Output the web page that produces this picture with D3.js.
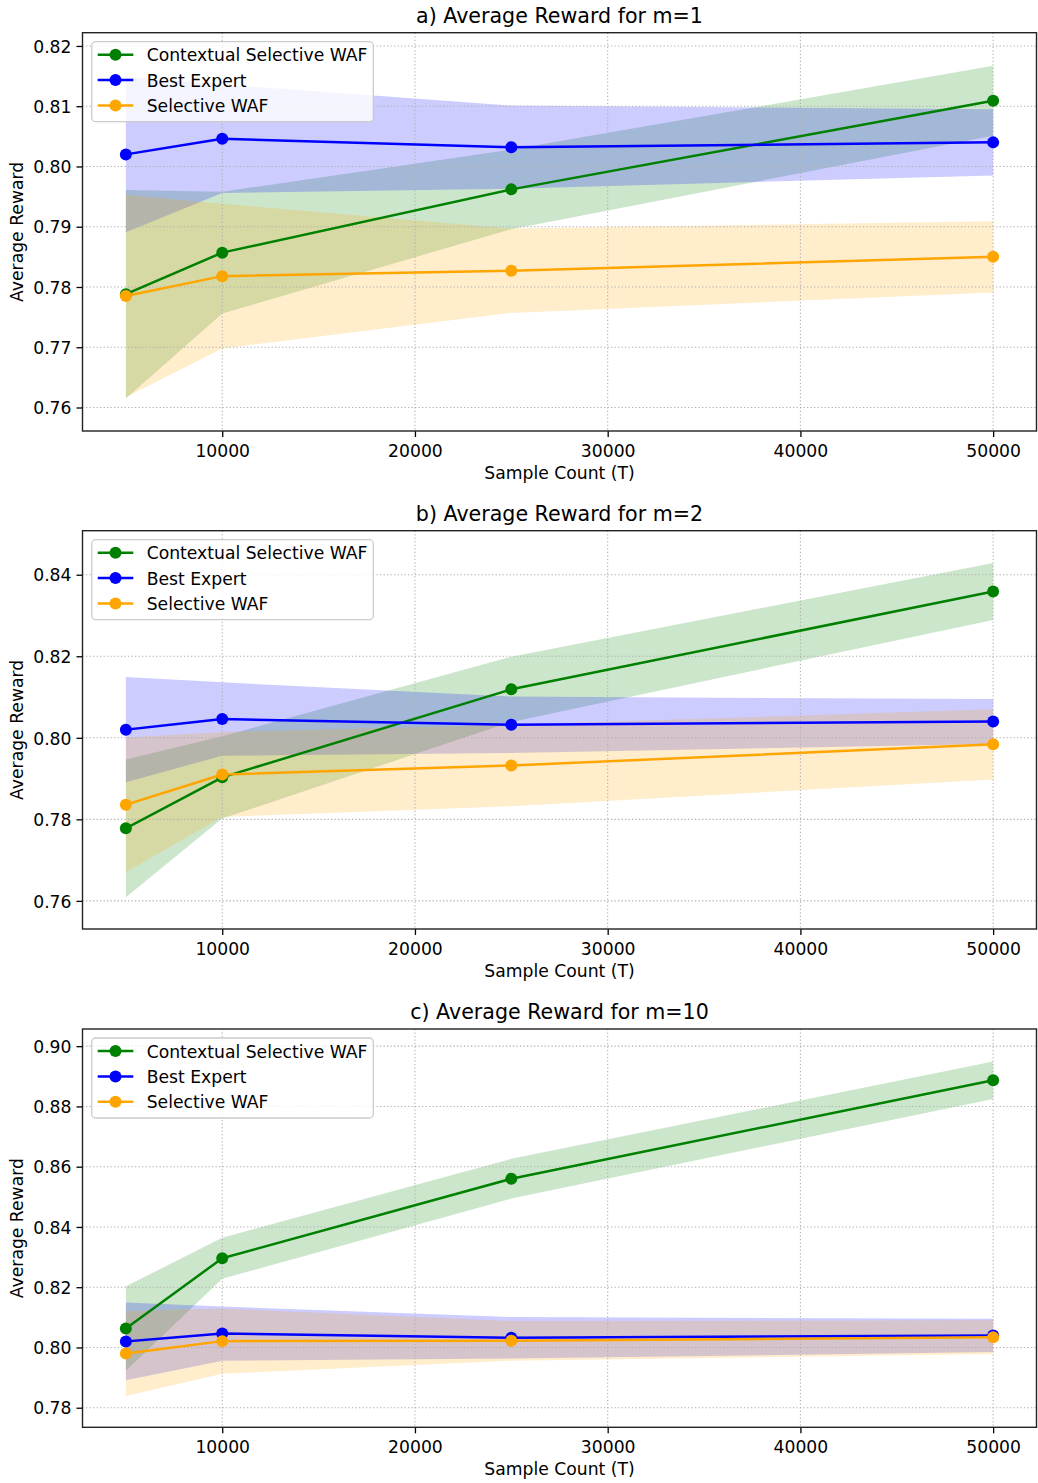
<!DOCTYPE html>
<html>
<head>
<meta charset="utf-8">
<script src="https://cdn.jsdelivr.net/npm/d3@7"></script>
<style>
  html, body { margin: 0; padding: 0; background: #ffffff; }
  svg { display: block; font-family: "DejaVu Sans", sans-serif; }
</style>
</head>
<body>
<svg id="chart" width="1038" height="1483"></svg>
<script>
// ---------------- data ----------------
const samples = [5000, 10000, 25000, 50000];
const seriesNames = ["Contextual Selective WAF", "Best Expert", "Selective WAF"];
const panelTitles = ["a) Average Reward for m=1", "b) Average Reward for m=2", "c) Average Reward for m=10"];
const xTicks = [10000, 20000, 30000, 40000, 50000];

const bestMean = [0.8020, 0.8046, 0.8032, 0.8040];
const bestStd  = [0.0129, 0.0090, 0.0069, 0.0055];

const ctxMeanA = [0.7788, 0.7857, 0.7962, 0.8109];
const ctxStdA  = [0.0173, 0.0101, 0.0066, 0.0058];
const selMeanA = [0.7785, 0.7818, 0.7827, 0.7850];
const selStdA  = [0.0168, 0.0120, 0.0070, 0.0059];

const ctxMeanB = [0.7778, 0.7903, 0.8119, 0.8359];
const ctxStdB  = [0.0169, 0.0101, 0.0080, 0.0070];
const selMeanB = [0.7836, 0.7910, 0.7932, 0.7984];
const selStdB  = [0.0165, 0.0104, 0.0100, 0.0086];

const ctxMeanC = [0.8063, 0.8296, 0.8560, 0.8887];
const ctxStdC  = [0.0140, 0.0068, 0.0066, 0.0062];
const selMeanC = [0.7980, 0.8021, 0.8022, 0.8034];
const selStdC  = [0.0141, 0.0108, 0.0066, 0.0056];

const yTicksA = [0.76, 0.77, 0.78, 0.79, 0.80, 0.81, 0.82];
const yTicksB = [0.76, 0.78, 0.80, 0.82, 0.84];
const yTicksC = [0.78, 0.80, 0.82, 0.84, 0.86, 0.88, 0.90];

const yDomA = [0.7561, 0.8222];
const yDomB = [0.7531, 0.8508];
const yDomC = [0.7735, 0.9057];
const xDom = [2750, 52250];

// ---------------- layout / style ----------------
const colors = ["#008000", "#0000ff", "#ffa500"];
const plotLeft = 82.5, plotRight = 1036.5;
const panelTops = [32.7, 530.7, 1029];
const panelH = 398.3;
const FONT = 17.2;
const TITLE_FONT = 20.6;

const panels = [
  { title: panelTitles[0], yDom: yDomA, yTicks: yTicksA,
    series: [[ctxMeanA, ctxStdA], [bestMean, bestStd], [selMeanA, selStdA]] },
  { title: panelTitles[1], yDom: yDomB, yTicks: yTicksB,
    series: [[ctxMeanB, ctxStdB], [bestMean, bestStd], [selMeanB, selStdB]] },
  { title: panelTitles[2], yDom: yDomC, yTicks: yTicksC,
    series: [[ctxMeanC, ctxStdC], [bestMean, bestStd], [selMeanC, selStdC]] }
];

const svg = d3.select("#chart");

panels.forEach((p, pi) => {
  const top = panelTops[pi];
  const bottom = top + panelH;
  const x = d3.scaleLinear().domain(xDom).range([plotLeft, plotRight]);
  const y = d3.scaleLinear().domain(p.yDom).range([bottom, top]);
  const g = svg.append("g");

  const clipId = "clip" + pi;
  g.append("clipPath").attr("id", clipId).append("rect")
    .attr("x", plotLeft).attr("y", top)
    .attr("width", plotRight - plotLeft).attr("height", panelH);

  const plot = g.append("g").attr("clip-path", `url(#${clipId})`);

  // fills (below grid)
  p.series.forEach(([mean, std], si) => {
    const rows = samples.map((s, i) => ({ s, m: mean[i], sd: std[i] }));
    const area = d3.area()
      .x(d => x(d.s))
      .y0(d => y(d.m - d.sd))
      .y1(d => y(d.m + d.sd));
    plot.append("path").datum(rows)
      .attr("d", area)
      .attr("fill", colors[si])
      .attr("fill-opacity", 0.2)
      .attr("stroke", "none");
  });

  // grid
  const grid = plot.append("g");
  xTicks.forEach(t => {
    grid.append("line")
      .attr("x1", x(t)).attr("x2", x(t))
      .attr("y1", top).attr("y2", bottom)
      .attr("stroke", "#b0b0b0").attr("stroke-width", 1.1)
      .attr("stroke-dasharray", "1.3,2.2");
  });
  p.yTicks.forEach(t => {
    grid.append("line")
      .attr("x1", plotLeft).attr("x2", plotRight)
      .attr("y1", y(t)).attr("y2", y(t))
      .attr("stroke", "#b0b0b0").attr("stroke-width", 1.1)
      .attr("stroke-dasharray", "1.3,2.2");
  });

  // lines + markers
  p.series.forEach(([mean, std], si) => {
    const rows = samples.map((s, i) => ({ s, m: mean[i] }));
    const line = d3.line().x(d => x(d.s)).y(d => y(d.m));
    plot.append("path").datum(rows)
      .attr("d", line)
      .attr("fill", "none")
      .attr("stroke", colors[si])
      .attr("stroke-width", 2.5)
      .attr("stroke-linejoin", "round")
      .attr("stroke-linecap", "square");
    plot.selectAll(null).data(rows).enter().append("circle")
      .attr("cx", d => x(d.s)).attr("cy", d => y(d.m))
      .attr("r", 6)
      .attr("fill", colors[si]);
  });

  // axes
  const xAxis = d3.axisBottom(x).tickValues(xTicks).tickFormat(d3.format("d"))
    .tickSizeInner(6).tickSizeOuter(0).tickPadding(5);
  const yAxis = d3.axisLeft(y).tickValues(p.yTicks).tickFormat(d3.format(".2f"))
    .tickSizeInner(6).tickSizeOuter(0).tickPadding(5);

  const gx = g.append("g").attr("transform", `translate(0,${bottom})`).call(xAxis);
  const gy = g.append("g").attr("transform", `translate(${plotLeft},0)`).call(yAxis);
  [gx, gy].forEach(ax => {
    ax.select(".domain").remove();
    ax.selectAll(".tick line").attr("stroke", "#000").attr("stroke-width", 1.3);
    ax.selectAll(".tick text").attr("fill", "#000")
      .style("font-size", FONT + "px").style("font-family", "DejaVu Sans");
  });
  gx.selectAll(".tick text").attr("dy", null).attr("y", 25.8).attr("dominant-baseline", "auto");
  gy.selectAll(".tick text").attr("dy", "0.36em");

  // spines
  g.append("rect")
    .attr("x", plotLeft).attr("y", top)
    .attr("width", plotRight - plotLeft).attr("height", panelH)
    .attr("fill", "none").attr("stroke", "#222").attr("stroke-width", 1.4);

  // title
  g.append("text")
    .attr("x", (plotLeft + plotRight) / 2).attr("y", top - 10)
    .attr("text-anchor", "middle")
    .style("font-size", TITLE_FONT + "px")
    .attr("fill", "#000")
    .text(p.title);

  // axis labels
  g.append("text")
    .attr("x", (plotLeft + plotRight) / 2).attr("y", bottom + 48)
    .attr("text-anchor", "middle")
    .style("font-size", FONT + "px")
    .attr("fill", "#000")
    .text("Sample Count (T)");
  g.append("text")
    .attr("transform", `translate(22.5,${top + panelH / 2}) rotate(-90)`)
    .attr("text-anchor", "middle")
    .style("font-size", FONT + "px")
    .attr("fill", "#000")
    .text("Average Reward");

  // legend
  const lg = g.append("g");
  lg.append("rect")
    .attr("x", 91.7).attr("y", top + 9)
    .attr("width", 281.6).attr("height", 80)
    .attr("rx", 4).attr("ry", 4)
    .attr("fill", "#ffffff").attr("fill-opacity", 0.8)
    .attr("stroke", "#cccccc").attr("stroke-width", 1.3);
  seriesNames.forEach((name, si) => {
    const ly = top + 22 + si * 25.4;
    lg.append("line")
      .attr("x1", 97.7).attr("x2", 133.3)
      .attr("y1", ly).attr("y2", ly)
      .attr("stroke", colors[si]).attr("stroke-width", 2.5);
    lg.append("circle")
      .attr("cx", 115.5).attr("cy", ly).attr("r", 6)
      .attr("fill", colors[si]);
    lg.append("text")
      .attr("x", 146.7).attr("y", ly + 6.6)
      .style("font-size", FONT + "px")
      .attr("fill", "#000")
      .text(name);
  });
});
</script>
</body>
</html>
